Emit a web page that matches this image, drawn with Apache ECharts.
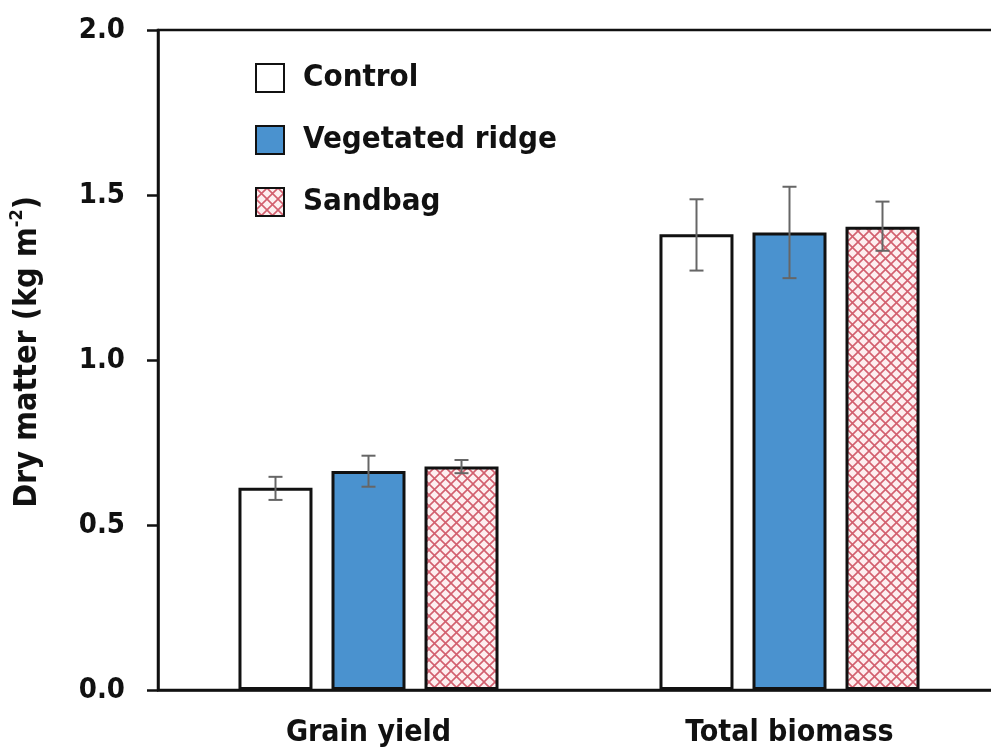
<!DOCTYPE html>
<html>
<head>
<meta charset="utf-8">
<script src="https://cdn.jsdelivr.net/npm/echarts@6/dist/echarts.min.js"></script>
<style>
  html, body { margin: 0; padding: 0; background: #ffffff; }
  #chart { width: 991px; height: 753px; }
</style>
</head>
<body>
<div id="chart"></div>
<script>
// ---- Data ----
const categories = ['Grain yield', 'Total biomass'];
const seriesNames = ['Control', 'Vegetated ridge', 'Sandbag'];
const controlValues = [0.613, 1.381];
const vegetatedValues = [0.664, 1.386];
const sandbagValues = [0.677, 1.404];
const controlErrLow = [0.576, 1.271];
const controlErrHigh = [0.646, 1.487];
const vegetatedErrLow = [0.616, 1.248];
const vegetatedErrHigh = [0.710, 1.525];
const sandbagErrLow = [0.657, 1.331];
const sandbagErrHigh = [0.697, 1.480];
const yTicks = [0.0, 0.5, 1.0, 1.5, 2.0];

// ---- Styles ----
const FONT = "'Liberation Sans Narrow', 'Arial Narrow', 'DejaVu Sans Condensed', sans-serif";
const BAR_W = 74;
const BAR_GAP = 19;

function makeHatch() {
  const s = 11;
  const c = document.createElement('canvas');
  c.width = s; c.height = s;
  const g = c.getContext('2d');
  g.fillStyle = '#fdeff0';
  g.fillRect(0, 0, s, s);
  g.strokeStyle = '#d2606f';
  g.lineWidth = 1.6;
  g.beginPath();
  g.moveTo(-1, -1); g.lineTo(s + 1, s + 1);
  g.moveTo(s + 1, -1); g.lineTo(-1, s + 1);
  g.stroke();
  return c;
}
const hatch = { image: makeHatch(), repeat: 'repeat' };

const barValues = [controlValues, vegetatedValues, sandbagValues];
const fills = ['#ffffff', '#4a92cf', hatch];
const errLows = [controlErrLow, vegetatedErrLow, sandbagErrLow];
const errHighs = [controlErrHigh, vegetatedErrHigh, sandbagErrHigh];

const errData = [];
for (let s = 0; s < 3; s++) {
  for (let c = 0; c < categories.length; c++) {
    errData.push([c, errLows[s][c], errHighs[s][c], s]);
  }
}

const chart = echarts.init(document.getElementById('chart'), null, { renderer: 'canvas' });

const series = seriesNames.map((name, i) => ({
  name: name,
  type: 'bar',
  data: barValues[i],
  barWidth: BAR_W,
  barGap: (BAR_GAP / BAR_W * 100).toFixed(1) + '%',
  itemStyle: { color: fills[i], borderColor: '#111', borderWidth: 3 },
  emphasis: { disabled: true },
  z: 2
}));

series.push({
  type: 'custom',
  name: 'err',
  data: errData,
  z: 5,
  silent: true,
  renderItem: function (params, api) {
    const cat = api.value(0);
    const lo = api.coord([cat, api.value(1)]);
    const hi = api.coord([cat, api.value(2)]);
    const s = api.value(3);
    const x = lo[0] + (s - 1) * (BAR_W + BAR_GAP);
    const cap = 7;
    const st = { stroke: '#666', lineWidth: 2 };
    return {
      type: 'group',
      children: [
        { type: 'line', shape: { x1: x, y1: lo[1], x2: x, y2: hi[1] }, style: st },
        { type: 'line', shape: { x1: x - cap, y1: lo[1], x2: x + cap, y2: lo[1] }, style: st },
        { type: 'line', shape: { x1: x - cap, y1: hi[1], x2: x + cap, y2: hi[1] }, style: st }
      ]
    };
  }
});

chart.setOption({
  animation: false,
  backgroundColor: '#ffffff',
  grid: {
    left: 158, top: 30, width: 842, bottom: 63,
    outerBoundsMode: 'none',
    containLabel: false,
    show: true, borderColor: '#111', borderWidth: 2.5, backgroundColor: 'transparent'
  },
  legend: {
    data: seriesNames,
    icon: 'rect',
    orient: 'vertical',
    left: 255, top: 57,
    padding: 0,
    itemWidth: 28, itemHeight: 28,
    itemGap: 20,
    selectedMode: false,
    itemStyle: { borderWidth: 2 },
    textStyle: {
      fontFamily: FONT, fontWeight: 'bold', fontSize: 31, color: '#111',
      lineHeight: 32, padding: [10, 0, 0, 14]
    }
  },
  xAxis: {
    type: 'category',
    data: categories,
    axisLine: { lineStyle: { color: '#111', width: 2.5 } },
    axisTick: { show: false },
    axisLabel: {
      fontFamily: FONT, fontWeight: 'bold', fontSize: 30, color: '#111', margin: 28
    }
  },
  yAxis: {
    type: 'value',
    min: 0, max: 2, interval: 0.5,
    name: '{a|Dry matter (kg m}{s|-2}{a|)}',
    nameLocation: 'middle',
    nameRotate: 90,
    nameGap: 114,
    nameTextStyle: {
      padding: [0, 0, 0, 16],
      rich: {
        a: { fontFamily: FONT, fontWeight: 'bold', fontSize: 32, color: '#111', lineHeight: 36, verticalAlign: 'bottom' },
        s: { fontFamily: FONT, fontWeight: 'bold', fontSize: 18, color: '#111', lineHeight: 36, verticalAlign: 'top' }
      }
    },
    splitLine: { show: false },
    axisLine: { show: true, lineStyle: { color: '#111', width: 2.5 } },
    axisTick: { show: true, inside: false, length: 11, lineStyle: { color: '#111', width: 2.5 } },
    axisLabel: {
      fontFamily: FONT, fontWeight: 'bold', fontSize: 29, color: '#111', margin: 33,
      formatter: function (v) {
        const t = yTicks.find(k => Math.abs(k - v) < 1e-9);
        return (t !== undefined ? t : v).toFixed(1);
      }
    }
  },
  series: series
});
</script>
</body>
</html>
